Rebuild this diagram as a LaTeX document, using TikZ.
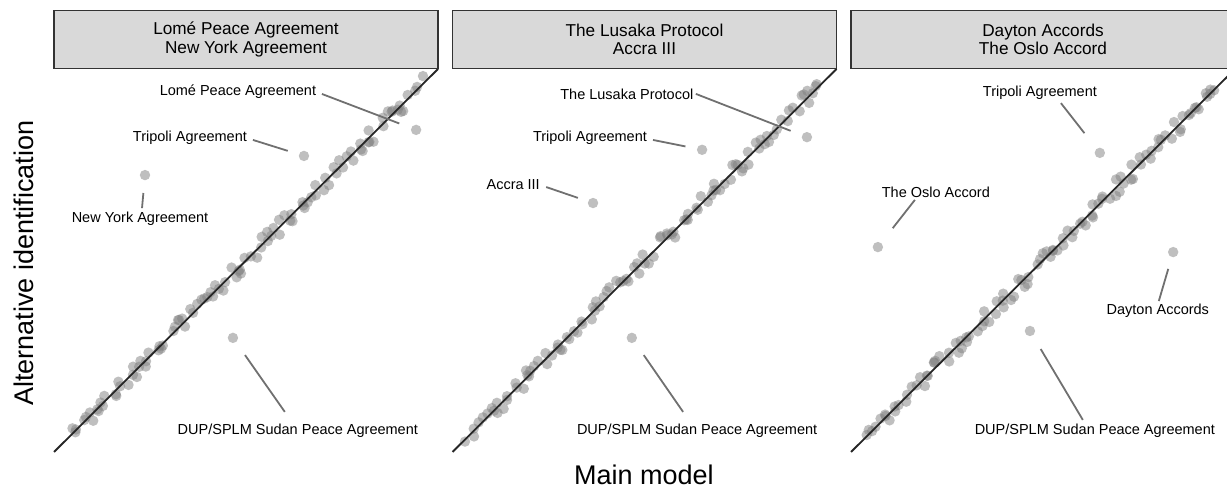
\documentclass[tikz,border=0pt]{standalone}
\usepackage{fontspec}
\setmainfont{Liberation Sans}
\usepackage{xcolor}
\usepackage{tikz}
\usetikzlibrary{calc}
\definecolor{stripbg}{HTML}{D9D9D9}
\definecolor{stripline}{HTML}{333333}
\definecolor{lead}{HTML}{707070}
\definecolor{pt}{HTML}{7F7F7F}
\tikzset{
  strip/.style={draw=stripline, fill=stripbg, line width=1.6pt, minimum width=384pt, minimum height=58pt,
    inner sep=0pt, align=center, font=\fontsize{17.2}{18.5}\selectfont},
  diag/.style={draw=black!85, line width=1.8pt},
  cloud/.style={fill=pt, fill opacity=0.5},
  dot/.style={circle, fill=pt, fill opacity=0.5, minimum size=10.4pt, inner sep=0pt},
  lab/.style={font=\fontsize{14.5}{16}\selectfont, inner sep=0pt},
  leader/.style={draw=lead, line width=1.8pt},
  axtitle/.style={font=\fontsize{27}{30}\selectfont, inner sep=0pt},
}
\begin{document}
\begin{tikzpicture}[x=1pt,y=1pt]
  \clip (0,0) rectangle (1227,489);
  \foreach \px/\ttop/\tbot/\seed [count=\k] in {54/Lomé Peace Agreement/New York Agreement/4242,
      452.5/The Lusaka Protocol/Accra III/4243, 851/Dayton Accords/The Oslo Accord/4244}{
    \begin{scope}[shift={(\px,37)}, x=384pt, y=383pt]
      \pgfmathsetseed{\seed}
      \foreach \i in {1,...,104}{
        \pgfmathsetmacro\u{0.04+0.92*(\i-0.5)/104+0.012*rand}
        \pgfmathsetmacro\v{\u+0.022*rand}
        \fill[cloud] (\u,\v) circle[radius=5.2pt];
      }
      \draw[diag] (0,0) -- (1,1);
      \node[strip] (strip\k) at (0.5,1.0770) {\ttop\\\tbot};
    \end{scope}
  }

  \begin{scope}[shift={(54,37)}, x=384pt, y=383pt]
    \node[dot] (p1a) at (0.943,0.841) {};
    \node[dot] (p1b) at (0.651,0.773) {};
    \node[dot] (p1c) at (0.237,0.723) {};
    \node[dot] (p1d) at (0.466,0.298) {};
    \node[lab] (l1a) at (0.479,0.940) {Lomé Peace Agreement};
    \node[lab] (l1b) at (0.354,0.820) {Tripoli Agreement};
    \node[lab] (l1c) at (0.224,0.608) {New York Agreement};
    \node[lab] (l1d) at (0.635,0.055) {DUP/SPLM Sudan Peace Agreement};
    \draw[leader, shorten >=18pt] ([xshift=84pt,yshift=-2pt]l1a.center) -- (p1a.center);
    \draw[leader, shorten >=17pt] ([xshift=63pt,yshift=-2pt]l1b.center) -- (p1b.center);
    \draw[leader, shorten >=18pt] ([xshift=2pt,yshift=11pt]l1c.center) -- (p1c.center);
    \draw[leader, shorten >=21pt] ([xshift=-13pt,yshift=19pt]l1d.center) -- (p1d.center);
  \end{scope}

  \begin{scope}[shift={(452.5,37)}, x=384pt, y=383pt]
    \node[dot] (p2a) at (0.923,0.822) {};
    \node[dot] (p2b) at (0.650,0.789) {};
    \node[dot] (p2c) at (0.366,0.650) {};
    \node[dot] (p2d) at (0.467,0.298) {};
    \node[lab] (l2a) at (0.454,0.935) {The Lusaka Protocol};
    \node[lab] (l2b) at (0.358,0.820) {Tripoli Agreement};
    \node[lab] (l2c) at (0.158,0.697) {Accra III};
    \node[lab] (l2d) at (0.637,0.055) {DUP/SPLM Sudan Peace Agreement};
    \draw[leader, shorten >=17.5pt] ([xshift=69pt]l2a.center) -- (p2a.center);
    \draw[leader, shorten >=17pt] ([xshift=63pt,yshift=-2pt]l2b.center) -- (p2b.center);
    \draw[leader, shorten >=16pt] ([xshift=33pt,yshift=-2pt]l2c.center) -- (p2c.center);
    \draw[leader, shorten >=21pt] ([xshift=-14pt,yshift=19pt]l2d.center) -- (p2d.center);
  \end{scope}

  \begin{scope}[shift={(851,37)}, x=384pt, y=383pt]
    \node[dot] (p3a) at (0.648,0.781) {};
    \node[dot] (p3b) at (0.070,0.535) {};
    \node[dot] (p3c) at (0.839,0.522) {};
    \node[dot] (p3d) at (0.466,0.316) {};
    \node[lab] (l3a) at (0.492,0.937) {Tripoli Agreement};
    \node[lab] (l3b) at (0.221,0.679) {The Oslo Accord};
    \node[lab] (l3c) at (0.799,0.368) {Dayton Accords};
    \node[lab] (l3d) at (0.635,0.055) {DUP/SPLM Sudan Peace Agreement};
    \draw[leader, shorten >=25pt] ([xshift=21pt,yshift=-10pt]l3a.center) -- (p3a.center);
    \draw[leader, shorten >=24pt] ([xshift=-21pt,yshift=-8pt]l3b.center) -- (p3b.center);
    \draw[leader, shorten >=17.5pt] ([xshift=1pt,yshift=10pt]l3c.center) -- (p3c.center);
    \draw[leader, shorten >=21pt] ([xshift=-12pt,yshift=11pt]l3d.center) -- (p3d.center);
  \end{scope}

  \node[axtitle, rotate=90] (ytitle) at (24,226) {Alternative identification};
  \node[axtitle] (xtitle) at (644,14) {Main model};
\end{tikzpicture}
\end{document}
